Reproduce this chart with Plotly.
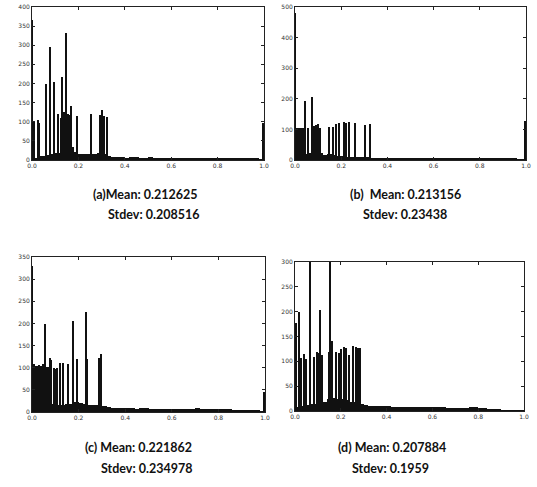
import plotly.graph_objects as go

# ---------------- data ----------------
# coarse background histogram (bin centres, width 0.02)
bin_centers = [0.01, 0.03, 0.05, 0.07, 0.09, 0.11, 0.13, 0.15, 0.17, 0.19,
               0.21, 0.23, 0.25, 0.27, 0.29, 0.31, 0.33, 0.35, 0.37, 0.39,
               0.41, 0.43, 0.45, 0.47, 0.49, 0.51, 0.53, 0.55, 0.57, 0.59,
               0.61, 0.63, 0.65, 0.67, 0.69, 0.71, 0.73, 0.75, 0.77, 0.79,
               0.81, 0.83, 0.85, 0.87, 0.89, 0.91, 0.93, 0.95, 0.97, 0.99]

base_a = [5, 10, 10, 14, 15, 18, 25, 45, 35, 22, 15, 17, 15, 16, 18, 15, 10, 9, 8, 8,
          6, 7, 7, 6, 5, 7, 6, 6, 6, 5, 5, 6, 5, 5, 6, 5, 4, 5, 4, 4,
          4, 4, 4, 4, 3, 5, 4, 3, 3, 2]
base_b = [15, 18, 20, 24, 20, 22, 15, 18, 15, 14, 12, 10, 10, 9, 10, 9, 8, 8, 8, 8,
          8, 7, 8, 7, 7, 7, 7, 6, 6, 6, 6, 6, 6, 5, 5, 5, 4, 4, 4, 4,
          4, 4, 5, 5, 4, 4, 4, 4, 3, 3]
base_c = [15, 18, 18, 20, 18, 16, 15, 17, 18, 22, 20, 17, 15, 16, 15, 14, 12, 9, 8, 8,
          8, 9, 7, 8, 9, 6, 6, 7, 7, 7, 6, 6, 7, 7, 7, 8, 7, 6, 6, 6,
          6, 7, 6, 5, 5, 4, 4, 3, 3, 2]
base_d = [8, 10, 12, 15, 15, 18, 18, 24, 26, 25, 24, 22, 18, 15, 14, 12, 11, 10, 10, 11,
          10, 9, 9, 8, 8, 9, 8, 8, 9, 9, 8, 8, 8, 7, 7, 7, 7, 7, 8, 8,
          7, 6, 5, 3, 3, 2, 2, 2, 1, 1]

# narrow spikes (bin centre, count)
spike_a_x = [0.0025, 0.009, 0.025, 0.033, 0.062, 0.078, 0.096, 0.112, 0.124, 0.131,
             0.137, 0.147, 0.157, 0.164, 0.171, 0.194, 0.256, 0.293, 0.302, 0.312,
             0.323, 0.9975]
spike_a_y = [365, 100, 105, 96, 200, 296, 203, 119, 110, 218,
             126, 331, 119, 118, 141, 114, 121, 118, 130, 114,
             112, 98]

spike_b_x = [0.0025, 0.007, 0.013, 0.019, 0.025, 0.0375, 0.046, 0.0577, 0.075, 0.082,
             0.088, 0.094, 0.101, 0.111, 0.147, 0.164, 0.178, 0.190, 0.215, 0.222,
             0.236, 0.260, 0.305, 0.325, 0.9975]
spike_b_y = [482, 105, 106, 104, 103, 105, 194, 104, 207, 110,
             112, 114, 118, 106, 107, 108, 118, 122, 123, 120,
             125, 120, 116, 118, 128]

spike_c_x = [0.0025, 0.008, 0.016, 0.024, 0.032, 0.040, 0.048, 0.057, 0.064, 0.071,
             0.079, 0.083, 0.094, 0.101, 0.109, 0.122, 0.136, 0.155, 0.176, 0.193,
             0.233, 0.237, 0.287, 0.296, 0.9975]
spike_c_y = [330, 108, 104, 105, 106, 103, 108, 199, 102, 101,
             123, 117, 99, 98, 99, 110, 111, 108, 206, 119,
             226, 120, 123, 131, 45]

spike_d_x = [0.004, 0.017, 0.026, 0.039, 0.051, 0.068, 0.083, 0.095, 0.102, 0.112,
             0.119, 0.149, 0.156, 0.163, 0.182, 0.192, 0.201, 0.214, 0.225, 0.237,
             0.255, 0.266, 0.277, 0.284]
spike_d_y = [178, 200, 106, 114, 105, 420, 109, 119, 116, 203,
             113, 118, 380, 140, 118, 116, 125, 128, 127, 113,
             130, 128, 127, 126]

y_ranges = [400, 500, 350, 300]
y_dtick = [50, 100, 50, 50]
x_ticks = [0.0, 0.2, 0.4, 0.6, 0.8, 1.0]
x_tick_text = ["0.0", "0.2", "0.4", "0.6", "0.8", "1.0"]

captions = [
    ("(a)Mean: 0.212625", "Stdev: 0.208516"),
    ("(b)  Mean: 0.213156", "Stdev: 0.23438"),
    ("(c) Mean: 0.221862", "Stdev: 0.234978"),
    ("(d) Mean: 0.207884", "Stdev: 0.1959"),
]

# ---------------- layout (pixels) ----------------
W, H = 537, 487
# (left, right, top, bottom) of each plot area in px
boxes = [(32, 264, 7, 160), (295, 526, 7, 160), (32, 265, 257, 412), (295, 524, 262, 411)]
# caption centres (x1, y1, x2, y2) in px
cap_pos = [(145, 194, 153, 215), (405, 194, 405, 215), (138, 447, 146, 468), (392, 447, 390, 468)]

bases = [base_a, base_b, base_c, base_d]
spikes = [(spike_a_x, spike_a_y), (spike_b_x, spike_b_y), (spike_c_x, spike_c_y), (spike_d_x, spike_d_y)]

fig = go.Figure()
layout = dict(
    width=W, height=H, margin=dict(l=0, r=0, t=0, b=0),
    paper_bgcolor="white", plot_bgcolor="white",
    showlegend=False, barmode="overlay", bargap=0,
)

for i in range(4):
    sfx = "" if i == 0 else str(i + 1)
    xa, ya = "x" + sfx, "y" + sfx
    fig.add_trace(go.Bar(x=bin_centers, y=bases[i], width=0.02, marker=dict(color="#111", line=dict(width=0)),
                         xaxis=xa, yaxis=ya, hoverinfo="skip"))
    sx, sy = spikes[i]
    fig.add_trace(go.Bar(x=sx, y=sy, width=0.0065, marker=dict(color="#111", line=dict(width=0)),
                         xaxis=xa, yaxis=ya, hoverinfo="skip"))
    l, r, t, b = boxes[i]
    axis_common = dict(showline=True, linecolor="#222", linewidth=1, mirror="ticks", ticks="inside",
                       ticklen=3, tickcolor="#222", showgrid=False, zeroline=False,
                       tickfont=dict(family="DejaVu Sans", size=6, color="#333"), automargin=False)
    layout["xaxis" + sfx] = dict(domain=[l / W, r / W], range=[0, 1], anchor=ya,
                                 tickvals=x_ticks, ticktext=x_tick_text, **axis_common)
    layout["yaxis" + sfx] = dict(domain=[1 - b / H, 1 - t / H], range=[0, y_ranges[i]], anchor=xa,
                                 dtick=y_dtick[i], tick0=0, **axis_common)

annotations = []
for i in range(4):
    x1, y1, x2, y2 = cap_pos[i]
    for txt, xx, yy in ((captions[i][0], x1, y1), (captions[i][1], x2, y2)):
        annotations.append(dict(text="<b>" + txt + "</b>", x=xx / W, y=1 - yy / H, xref="paper", yref="paper",
                                xanchor="center", yanchor="middle", showarrow=False,
                                font=dict(family="Lato", size=12.5, color="#111")))
layout["annotations"] = annotations
fig.update_layout(**layout)

fig.write_html("out.html")
